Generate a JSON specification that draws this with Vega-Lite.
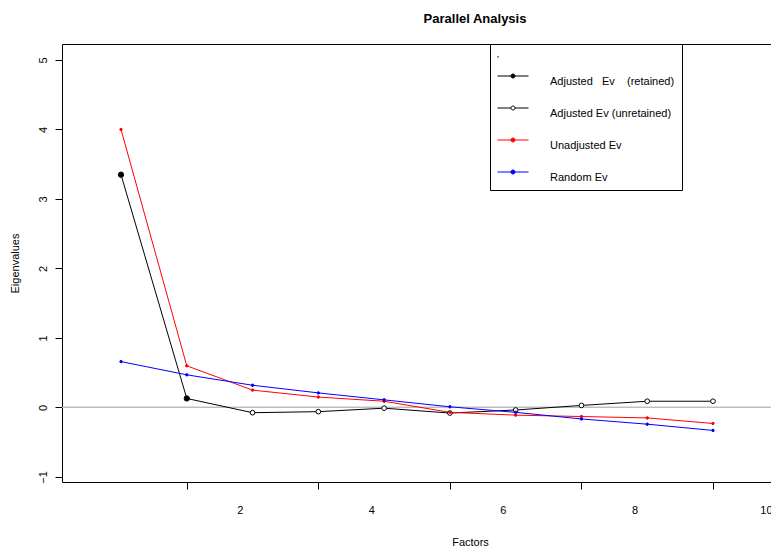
{
  "$schema": "https://vega.github.io/schema/vega-lite/v6.json",
  "width": 720,
  "height": 438,
  "autosize": {"type": "none"},
  "padding": {"left": 62, "top": 44, "right": -11, "bottom": 75},
  "background": "white",
  "title": {"text": "Parallel Analysis", "font": "Liberation Sans", "fontSize": 13, "fontWeight": "bold", "color": "black", "anchor": "middle", "offset": 18, "dx": 53},
  "config": {
    "font": "Liberation Sans",
    "view": {"stroke": "black", "strokeWidth": 1},
    "axis": {"grid": false, "domain": false, "tickColor": "black", "tickSize": 7, "tickWidth": 1, "labelColor": "black", "labelFontSize": 11, "titleColor": "black", "titleFontSize": 11, "titleFontWeight": "normal", "labelFlush": false, "labelOverlap": false, "labelBound": false},
    "legend": {"orient": "none", "legendX": 428, "legendY": 0, "titleFontSize": 7, "titlePadding": 2, "titleLimit": 2000, "strokeColor": "black", "fillColor": "white", "padding": 7, "symbolSize": 961, "symbolStrokeWidth": 1, "labelFontSize": 11, "labelColor": "black", "labelOffset": 21, "labelLimit": 600, "labelBaseline": "top", "rowPadding": 5,
      "symbolType": "M-1,0H-0.13M0.13,0H1M-0.13,0A0.13,0.13,0,1,1,0.13,0A0.13,0.13,0,1,1,-0.13,0Z"}
  },
  "data": {"values": [
    {"factor": 1, "value": 3.35, "series": "Adjusted", "pt": "Adjusted\u00a0\u00a0\u00a0Ev\u00a0\u00a0\u00a0\u00a0(retained)"},
    {"factor": 2, "value": 0.13, "series": "Adjusted", "pt": "Adjusted\u00a0\u00a0\u00a0Ev\u00a0\u00a0\u00a0\u00a0(retained)"},
    {"factor": 3, "value": -0.075, "series": "Adjusted", "pt": "Adjusted Ev (unretained)"},
    {"factor": 4, "value": -0.06, "series": "Adjusted", "pt": "Adjusted Ev (unretained)"},
    {"factor": 5, "value": -0.01, "series": "Adjusted", "pt": "Adjusted Ev (unretained)"},
    {"factor": 6, "value": -0.08, "series": "Adjusted", "pt": "Adjusted Ev (unretained)"},
    {"factor": 7, "value": -0.036, "series": "Adjusted", "pt": "Adjusted Ev (unretained)"},
    {"factor": 8, "value": 0.03, "series": "Adjusted", "pt": "Adjusted Ev (unretained)"},
    {"factor": 9, "value": 0.09, "series": "Adjusted", "pt": "Adjusted Ev (unretained)"},
    {"factor": 10, "value": 0.09, "series": "Adjusted", "pt": "Adjusted Ev (unretained)"},
    {"factor": 1, "value": 4.0, "series": "Unadjusted", "pt": "Unadjusted Ev"},
    {"factor": 2, "value": 0.6, "series": "Unadjusted", "pt": "Unadjusted Ev"},
    {"factor": 3, "value": 0.25, "series": "Unadjusted", "pt": "Unadjusted Ev"},
    {"factor": 4, "value": 0.15, "series": "Unadjusted", "pt": "Unadjusted Ev"},
    {"factor": 5, "value": 0.09, "series": "Unadjusted", "pt": "Unadjusted Ev"},
    {"factor": 6, "value": -0.07, "series": "Unadjusted", "pt": "Unadjusted Ev"},
    {"factor": 7, "value": -0.11, "series": "Unadjusted", "pt": "Unadjusted Ev"},
    {"factor": 8, "value": -0.13, "series": "Unadjusted", "pt": "Unadjusted Ev"},
    {"factor": 9, "value": -0.15, "series": "Unadjusted", "pt": "Unadjusted Ev"},
    {"factor": 10, "value": -0.23, "series": "Unadjusted", "pt": "Unadjusted Ev"},
    {"factor": 1, "value": 0.66, "series": "Random", "pt": "Random Ev"},
    {"factor": 2, "value": 0.47, "series": "Random", "pt": "Random Ev"},
    {"factor": 3, "value": 0.32, "series": "Random", "pt": "Random Ev"},
    {"factor": 4, "value": 0.21, "series": "Random", "pt": "Random Ev"},
    {"factor": 5, "value": 0.11, "series": "Random", "pt": "Random Ev"},
    {"factor": 6, "value": 0.01, "series": "Random", "pt": "Random Ev"},
    {"factor": 7, "value": -0.07, "series": "Random", "pt": "Random Ev"},
    {"factor": 8, "value": -0.165, "series": "Random", "pt": "Random Ev"},
    {"factor": 9, "value": -0.24, "series": "Random", "pt": "Random Ev"},
    {"factor": 10, "value": -0.33, "series": "Random", "pt": "Random Ev"}
  ]},
  "encoding": {
    "x": {"field": "factor", "type": "quantitative", "scale": {"domain": [0.103, 11.049], "nice": false, "zero": false},
      "axis": {"values": [2, 4, 6, 8, 10], "title": "Factors", "labelOffset": 53, "labelPadding": 15, "titlePadding": 21, "titleX": 408}},
    "y": {"field": "value", "type": "quantitative", "scale": {"domain": [-1.072, 5.23], "nice": false, "zero": false},
      "axis": {"values": [-1, 0, 1, 2, 3, 4, 5], "title": "Eigenvalues", "labelAngle": -90, "labelAlign": "center", "labelBaseline": "bottom", "labelPadding": 7, "titlePadding": 17}}
  },
  "layer": [
    {"mark": {"type": "rule", "color": "#bebebe", "strokeWidth": 1}, "encoding": {"y": {"datum": 0, "type": "quantitative"}, "x": null}},
    {"mark": {"type": "line", "strokeWidth": 1},
     "encoding": {"color": {"field": "series", "type": "nominal", "scale": {"domain": ["Adjusted", "Unadjusted", "Random"], "range": ["black", "#FF0000", "#0000FF"]}, "legend": null}}},
    {"mark": {"type": "point", "shape": "circle", "filled": true, "strokeWidth": 1, "opacity": 1},
     "encoding": {
       "size": {"field": "pt", "type": "nominal", "scale": {"type": "ordinal", "domain": ["Adjusted Ev (unretained)", "Adjusted\u00a0\u00a0\u00a0Ev\u00a0\u00a0\u00a0\u00a0(retained)", "Unadjusted Ev", "Random Ev"], "range": [22, 28, 6, 6]}, "legend": null},
       "stroke": {"field": "pt", "type": "nominal", "scale": {"domain": ["Adjusted\u00a0\u00a0\u00a0Ev\u00a0\u00a0\u00a0\u00a0(retained)", "Adjusted Ev (unretained)", "Unadjusted Ev", "Random Ev"], "range": ["black", "black", "#FF0000", "#0000FF"]},
         "legend": {"rowPadding": 5, "title": "\u00a0\u00a0\u00a0\u00a0\u00a0\u00a0\u00a0\u00a0\u00a0\u00a0\u00a0\u00a0\u00a0\u00a0\u00a0\u00a0\u00a0\u00a0\u00a0\u00a0\u00a0\u00a0\u00a0\u00a0\u00a0\u00a0\u00a0\u00a0\u00a0\u00a0\u00a0\u00a0\u00a0\u00a0\u00a0\u00a0\u00a0\u00a0\u00a0\u00a0\u00a0\u00a0\u00a0\u00a0\u00a0\u00a0\u00a0\u00a0\u00a0\u00a0\u00a0\u00a0\u00a0\u00a0\u00a0\u00a0\u00a0\u00a0\u00a0\u00a0\u00a0\u00a0\u00a0\u00a0\u00a0\u00a0\u00a0\u00a0\u00a0\u00a0\u00a0\u00a0\u00a0\u00a0\u00a0\u00a0\u00a0\u00a0\u00a0\u00a0\u00a0\u00a0\u00a0\u00a0\u00a0\u00a0\u00a0\u00a0\u00a0\u00a0\u00a0\u00a0\u00a0\u00a0\u00a0\u00a0\u00a0\u00a0\u00a0\u00a0\u00a0\u00a0\u00a0\u00a0\u00a0\u00a0\u00a0\u00a0\u00a0\u00a0\u00a0\u00a0\u00a0\u00a0\u00a0\u00a0\u00a0\u00a0\u00a0\u00a0\u00a0\u00a0\u00a0\u00a0\u00a0\u00a0\u00a0\u00a0\u00a0\u00a0\u00a0\u00a0\u00a0\u00a0\u00a0\u00a0\u00a0\u00a0\u00a0\u00a0\u00a0\u00a0\u00a0\u00a0\u00a0\u00a0\u00a0\u00a0\u00a0\u00a0\u00a0\u00a0\u00a0\u00a0\u00a0\u00a0"}},
       "fill": {"field": "pt", "type": "nominal", "scale": {"domain": ["Adjusted\u00a0\u00a0\u00a0Ev\u00a0\u00a0\u00a0\u00a0(retained)", "Adjusted Ev (unretained)", "Unadjusted Ev", "Random Ev"], "range": ["black", "white", "#FF0000", "#0000FF"]},
         "legend": {"rowPadding": 5, "title": "\u00a0\u00a0\u00a0\u00a0\u00a0\u00a0\u00a0\u00a0\u00a0\u00a0\u00a0\u00a0\u00a0\u00a0\u00a0\u00a0\u00a0\u00a0\u00a0\u00a0\u00a0\u00a0\u00a0\u00a0\u00a0\u00a0\u00a0\u00a0\u00a0\u00a0\u00a0\u00a0\u00a0\u00a0\u00a0\u00a0\u00a0\u00a0\u00a0\u00a0\u00a0\u00a0\u00a0\u00a0\u00a0\u00a0\u00a0\u00a0\u00a0\u00a0\u00a0\u00a0\u00a0\u00a0\u00a0\u00a0\u00a0\u00a0\u00a0\u00a0\u00a0\u00a0\u00a0\u00a0\u00a0\u00a0\u00a0\u00a0\u00a0\u00a0\u00a0\u00a0\u00a0\u00a0\u00a0\u00a0\u00a0\u00a0\u00a0\u00a0\u00a0\u00a0\u00a0\u00a0\u00a0\u00a0\u00a0\u00a0\u00a0\u00a0\u00a0\u00a0\u00a0\u00a0\u00a0\u00a0\u00a0\u00a0\u00a0\u00a0\u00a0\u00a0\u00a0\u00a0\u00a0\u00a0\u00a0\u00a0\u00a0\u00a0\u00a0\u00a0\u00a0\u00a0\u00a0\u00a0\u00a0\u00a0\u00a0\u00a0\u00a0\u00a0\u00a0\u00a0\u00a0\u00a0\u00a0\u00a0\u00a0\u00a0\u00a0\u00a0\u00a0\u00a0\u00a0\u00a0\u00a0\u00a0\u00a0\u00a0\u00a0\u00a0\u00a0\u00a0\u00a0\u00a0\u00a0\u00a0\u00a0\u00a0\u00a0\u00a0\u00a0\u00a0\u00a0"}}
     }}
  ]
}
